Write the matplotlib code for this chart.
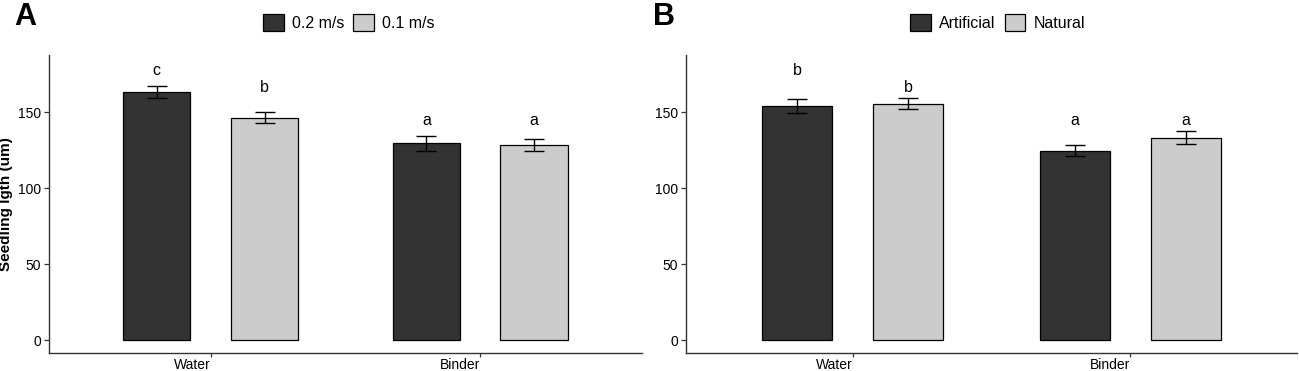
import matplotlib.pyplot as plt
import numpy as np

plt.rcParams['font.family'] = ['Liberation Sans', 'DejaVu Sans']

groups = ["Water", "Binder"]

# panel A: flow speed
a_series = ["0.2 m/s", "0.1 m/s"]
a_means = [[163.3, 129.4], [146.3, 128.3]]
a_err = [[4.0, 5.0], [3.5, 3.7]]
a_letters = [["c", "a"], ["b", "a"]]
a_letter_y = [[177.6, 144.3], [166.0, 144.3]]

# panel B: binder type
b_series = ["Artificial", "Natural"]
b_means = [[154.1, 124.5], [155.3, 133.1]]
b_err = [[4.5, 3.7], [3.6, 4.4]]
b_letters = [["b", "a"], ["b", "a"]]
b_letter_y = [[177.6, 144.3], [166.0, 144.3]]

colors = ["#333333", "#cccccc"]
ylabel = "Seedling lgth (um)"


def draw_panel(fig, ax, series, means, err, letters, letter_y, legend_x):
    x = np.arange(1, len(groups) + 1)
    offsets = [-0.2, 0.2]
    for i, name in enumerate(series):
        xs = x + offsets[i]
        ax.bar(xs, means[i], width=0.25, color=colors[i], edgecolor="black",
               linewidth=0.9, label=name, zorder=2)
        ax.errorbar(xs, means[i], yerr=err[i], fmt="none", ecolor="black",
                    elinewidth=1.0, capsize=7, capthick=1.0, zorder=3)
        for xi, lab, ly in zip(xs, letters[i], letter_y[i]):
            ax.text(xi, ly, lab, ha="center", va="center", fontsize=11.5)
    ax.set_xlim(0.4, 2.6)
    ax.set_ylim(-8.5, 187.5)
    ax.set_xticks(x)
    ax.set_xticklabels(groups, ha="right")
    ax.set_yticks([0, 50, 100, 150])
    for side in ["top", "right"]:
        ax.spines[side].set_visible(False)
    for side in ["left", "bottom"]:
        ax.spines[side].set_linewidth(1.0)
        ax.spines[side].set_color("#333333")
    ax.tick_params(axis="both", length=3.5, width=0.9, color="#333333",
                   labelsize=10, labelcolor="black", pad=2)
    ax.tick_params(axis="x", length=3, pad=0.5)
    ax.legend(loc="center", bbox_to_anchor=(legend_x, 0.94),
              bbox_transform=fig.transFigure, ncol=2, frameon=False,
              fontsize=11.5, handlelength=1.3, handleheight=1.25,
              handletextpad=0.5, columnspacing=0.56, borderaxespad=0,
              borderpad=0)


fig = plt.figure(figsize=(12.99, 3.71), dpi=100)
ax_a = fig.add_axes([0.0377, 0.0485, 0.4565, 0.8033])
ax_b = fig.add_axes([0.5281, 0.0485, 0.4704, 0.8033])

draw_panel(fig, ax_a, a_series, a_means, a_err, a_letters, a_letter_y, 0.2687)
draw_panel(fig, ax_b, b_series, b_means, b_err, b_letters, b_letter_y, 0.768)

ax_a.set_ylabel(ylabel, fontsize=11, fontweight="bold", labelpad=4)

fig.text(0.011, 0.955, "A", fontsize=22, fontweight="bold", va="center")
fig.text(0.503, 0.955, "B", fontsize=22, fontweight="bold", va="center")

fig.savefig("out.png", dpi=100)
